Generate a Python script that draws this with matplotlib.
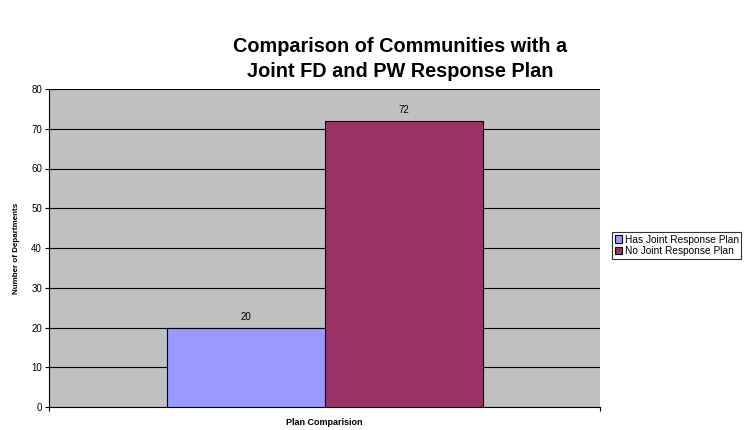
import matplotlib.pyplot as plt

# chart data
series = ['Has Joint Response Plan', 'No Joint Response Plan']
values = [20, 72]
colors = ['#9999FF', '#993366']
yticks = [0, 10, 20, 30, 40, 50, 60, 70, 80]

plt.rcParams['font.family'] = ['Liberation Sans', 'DejaVu Sans']

fig = plt.figure(figsize=(7.51, 4.30), dpi=100)
ax = fig.add_axes([49/751, 1-407/430, 551/751, 318/430])
ax.set_facecolor('#C0C0C0')

w = 158/551
offsets = [-w/2, w/2]
for name, v, c, off in zip(series, values, colors, offsets):
    ax.bar(off, v, width=w, color=c, edgecolor='black', linewidth=0.8,
           label=name, zorder=3)
    ax.text(off, v + 1.5, str(v), ha='center', va='bottom', fontsize=7, zorder=4)

ax.set_xlim(-0.5, 0.5)
ax.set_ylim(0, 80)
ax.set_yticks(yticks)
ax.set_xticks([-0.5, 0.5])
ax.set_xticklabels([])
ax.tick_params(axis='both', direction='out', length=3, width=0.8, labelsize=7, pad=2)
ax.yaxis.grid(True, color='black', linewidth=0.8, zorder=0)
ax.set_axisbelow(True)
for s in ['top', 'right']:
    ax.spines[s].set_visible(False)
ax.spines['left'].set_linewidth(0.8)
ax.spines['bottom'].set_linewidth(0.8)

ax.set_xlabel('Plan Comparision', fontsize=6.5, fontweight='bold', labelpad=3)
ax.set_ylabel('Number of Departments', fontsize=5.8, fontweight='bold', labelpad=8)

fig.text(400/751, 1-59/430, 'Comparison of Communities with a\nJoint FD and PW Response Plan',
         ha='center', va='center', fontsize=14.3, fontweight='bold', linespacing=1.45)

leg = fig.legend(loc='upper left', bbox_to_anchor=(612/751, 1-232/430), fontsize=7.3,
                 frameon=True, fancybox=False, edgecolor='black', handlelength=0.7,
                 handleheight=0.7, handletextpad=0.3, borderpad=0.25, labelspacing=0.15,
                 borderaxespad=0)
leg.get_frame().set_linewidth(0.8)

fig.savefig('out.png', dpi=100)
